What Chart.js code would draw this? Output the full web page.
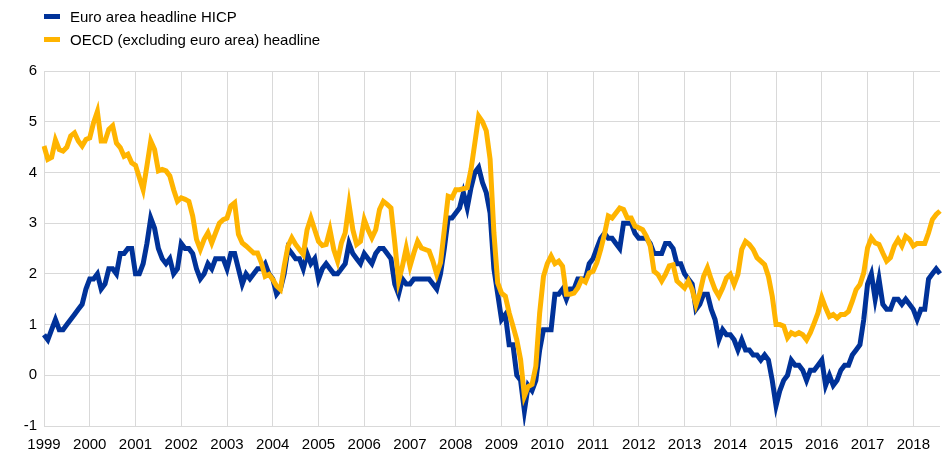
<!DOCTYPE html>
<html>
<head>
<meta charset="utf-8">
<script src="https://cdn.jsdelivr.net/npm/chart.js@4.4.1/dist/chart.umd.min.js"></script>
<style>
body{margin:0;background:#fff;}
#wrap{position:relative;width:952px;height:454px;}
#legend{position:absolute;left:44px;top:5px;font:15px "Liberation Sans",Arial,sans-serif;color:#000;}
.item{height:23px;display:flex;align-items:center;}
.box{width:16px;height:5px;margin-right:10px;}
</style>
</head>
<body>
<div id="wrap">
  <canvas id="chart" width="952" height="454"></canvas>
  <div id="legend"></div>
</div>
<script>
// years shown on the axis, data is monthly Jan 1999 - Aug 2018
var years = ["1999","2000","2001","2002","2003","2004","2005","2006","2007","2008","2009","2010","2011","2012","2013","2014","2015","2016","2017","2018"];
var lastYearMonths = 8;

var euroHicp = [
  0.8,0.7,0.9,1.1,0.9,0.9,1.0,1.1,1.2,1.3,1.4,1.7,
  1.9,1.9,2.0,1.7,1.8,2.1,2.1,2.0,2.4,2.4,2.5,2.5,
  2.0,2.0,2.2,2.6,3.1,2.9,2.5,2.3,2.2,2.3,2.0,2.1,
  2.6,2.5,2.5,2.4,2.1,1.9,2.0,2.2,2.1,2.3,2.3,2.3,
  2.1,2.4,2.4,2.1,1.8,2.0,1.9,2.0,2.1,2.1,2.2,2.0,
  1.9,1.6,1.7,2.0,2.5,2.4,2.3,2.3,2.1,2.4,2.2,2.3,
  1.9,2.1,2.2,2.1,2.0,2.0,2.1,2.2,2.6,2.4,2.3,2.2,
  2.4,2.3,2.2,2.4,2.5,2.5,2.4,2.3,1.8,1.6,1.9,1.8,
  1.8,1.9,1.9,1.9,1.9,1.9,1.8,1.7,2.0,2.5,3.1,3.1,
  3.2,3.3,3.6,3.3,3.7,4.0,4.1,3.8,3.6,3.2,2.1,1.6,
  1.1,1.2,0.6,0.6,0.0,-0.1,-0.7,-0.2,-0.3,-0.1,0.5,0.9,
  0.9,0.9,1.6,1.6,1.7,1.5,1.7,1.7,1.9,1.9,1.9,2.2,
  2.3,2.5,2.7,2.8,2.7,2.7,2.6,2.5,3.0,3.0,3.0,2.8,
  2.7,2.7,2.7,2.6,2.4,2.4,2.4,2.6,2.6,2.5,2.2,2.2,
  2.0,1.9,1.8,1.3,1.4,1.6,1.6,1.3,1.1,0.7,0.9,0.8,
  0.8,0.7,0.5,0.7,0.5,0.5,0.4,0.4,0.3,0.4,0.3,-0.1,
  -0.6,-0.3,-0.1,0.0,0.3,0.2,0.2,0.1,-0.1,0.1,0.1,0.2,
  0.3,-0.2,0.0,-0.2,-0.1,0.1,0.2,0.2,0.4,0.5,0.6,1.1,
  1.8,2.0,1.5,1.9,1.4,1.3,1.3,1.5,1.5,1.4,1.5,1.4,
  1.3,1.1,1.3,1.3,1.9,2.0,2.1,2.0
];

var oecdExEuro = [
  4.52,4.26,4.3,4.64,4.45,4.42,4.5,4.72,4.78,4.62,4.52,4.65,
  4.68,4.98,5.2,4.62,4.62,4.85,4.92,4.58,4.49,4.32,4.36,4.19,
  4.14,3.9,3.66,4.13,4.62,4.45,4.03,4.06,4.03,3.93,3.66,3.43,
  3.5,3.47,3.43,3.14,2.68,2.48,2.68,2.81,2.61,2.81,3.0,3.07,
  3.1,3.34,3.4,2.78,2.61,2.55,2.48,2.41,2.41,2.22,1.95,1.99,
  1.89,1.76,1.69,2.15,2.55,2.71,2.58,2.48,2.38,2.87,3.1,2.87,
  2.64,2.56,2.58,2.87,2.48,2.25,2.61,2.81,3.37,2.87,2.58,2.64,
  3.07,2.87,2.71,2.87,3.27,3.43,3.37,3.3,2.61,1.86,2.15,2.51,
  2.15,2.41,2.64,2.51,2.48,2.45,2.25,1.99,2.22,2.87,3.53,3.5,
  3.66,3.66,3.68,3.7,4.06,4.58,5.11,5.0,4.82,4.26,2.81,1.82,
  1.62,1.56,1.23,0.97,0.7,0.31,-0.41,-0.22,-0.18,0.18,1.23,1.95,
  2.2,2.35,2.2,2.25,2.15,1.6,1.6,1.62,1.72,1.89,1.84,2.02,
  2.05,2.22,2.48,2.78,3.14,3.1,3.2,3.3,3.27,3.1,3.1,2.94,
  2.91,2.87,2.74,2.55,2.05,1.99,1.86,1.99,2.16,2.18,1.86,1.79,
  1.72,1.86,1.69,1.39,1.62,1.95,2.12,1.89,1.69,1.56,1.72,1.92,
  1.99,1.79,1.99,2.48,2.64,2.58,2.48,2.32,2.25,2.18,1.95,1.56,
  1.0,1.0,0.97,0.74,0.84,0.8,0.84,0.8,0.7,0.84,1.03,1.23,
  1.53,1.33,1.16,1.2,1.13,1.2,1.2,1.26,1.46,1.69,1.79,2.02,
  2.51,2.71,2.61,2.58,2.41,2.25,2.32,2.55,2.68,2.55,2.74,2.68,
  2.55,2.6,2.6,2.6,2.81,3.07,3.17,3.24
];

var seriesNames = ["Euro area headline HICP", "OECD (excluding euro area) headline"];
var colori = ["#003299", "#ffb400"];

// monthly labels, year shown only on january
var labels = [];
for (var y = 0; y < years.length; y++) {
  var n = (y == years.length - 1) ? lastYearMonths : 12;
  for (var m = 1; m <= n; m++) {
    labels.push(years[y] + "-" + (m < 10 ? "0" + m : m));
  }
}

var legend = document.getElementById("legend");
seriesNames.forEach(function(nome, i){
  var it = document.createElement("div");
  it.className = "item";
  var b = document.createElement("span");
  b.className = "box";
  b.style.background = colori[i];
  var t = document.createElement("span");
  t.textContent = nome;
  it.appendChild(b);
  it.appendChild(t);
  legend.appendChild(it);
});

Chart.defaults.font.family = '"Liberation Sans", Arial, sans-serif';
Chart.defaults.font.size = 15;
Chart.defaults.color = "#000";

var gridCol = "#d9d9d9";

var ctx = document.getElementById("chart");
var myChart = new Chart(ctx, {
  type: "line",
  data: {
    labels: labels,
    datasets: [
      {
        label: seriesNames[0],
        data: euroHicp,
        borderColor: colori[0],
        backgroundColor: colori[0],
        borderWidth: 5,
        pointRadius: 0,
        tension: 0,
        order: 2
      },
      {
        label: seriesNames[1],
        data: oecdExEuro,
        borderColor: colori[1],
        backgroundColor: colori[1],
        borderWidth: 5,
        pointRadius: 0,
        tension: 0,
        order: 1   // orange drawn over the blue line
      }
    ]
  },
  options: {
    responsive: false,
    animation: false,
    layout: { padding: { top: 71, right: 12, bottom: 0, left: 0 } },
    plugins: {
      legend: { display: false },
      tooltip: { enabled: false }
    },
    scales: {
      x: {
        type: "category",
        offset: false,
        border: { display: false },
        grid: {
          drawTicks: false,
          color: function(c){ return (c.index % 12 === 0) ? gridCol : "rgba(0,0,0,0)"; },
          lineWidth: 1
        },
        ticks: {
          autoSkip: false,
          maxRotation: 0,
          padding: 10,
          callback: function(v, i){ return (i % 12 === 0) ? labels[i].substring(0, 4) : ""; }
        },
        afterFit: function(s){ s.height = 28; }
      },
      y: {
        min: -1,
        max: 6,
        border: { display: false },
        grid: { drawTicks: false, color: gridCol, lineWidth: 1 },
        ticks: { stepSize: 1, padding: 7 },
        afterFit: function(s){ s.width = 44; }
      }
    }
  }
});
</script>
</body>
</html>
